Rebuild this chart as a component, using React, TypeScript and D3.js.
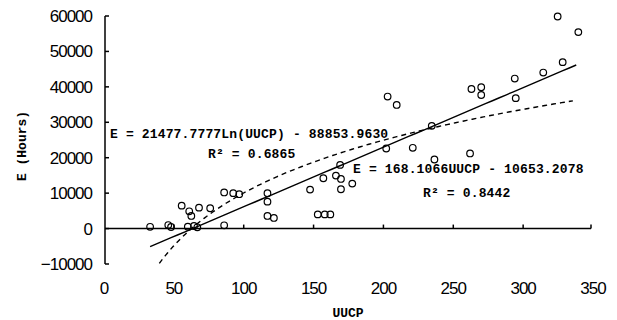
import React, { useEffect, useRef } from "react";
import * as d3 from "d3";

const uucp = [
  33, 46, 48, 55.6, 60, 61, 62.5, 64.4, 66.8, 68, 76, 86, 86, 92.5, 96.8,
  117, 117, 117, 121.6, 147.5, 153, 158, 162, 157, 166, 169.6, 169.6, 169,
  177.7, 202, 203, 209.5, 221, 234.6, 236.5, 262, 263, 270, 270, 294, 294.7,
  314.4, 324.7, 328.3, 339.5,
];
const hours = [
  500, 1000, 450, 6470, 540, 4880, 3560, 730, 360, 5900, 5730, 930, 10200,
  10000, 9700, 9970, 7600, 3560, 3000, 11000, 4000, 4000, 4000, 14200, 14950,
  14010, 11100, 17970, 12700, 22600, 37260, 34900, 22800, 29000, 19500, 21200,
  39400, 39900, 37700, 42350, 36810, 44040, 59860, 46980, 55450,
];
const xTicks = [0, 50, 100, 150, 200, 250, 300, 350];
const yTicks = [-10000, 0, 10000, 20000, 30000, 40000, 50000, 60000];
const linFit = { slope: 168.1066, intercept: -10653.2078, from: 33, to: 338 };
const logFit = { a: 21477.7777, b: -88853.963, from: 39.6, to: 336 };

const W = 617;
const H = 320;

export default function App(): JSX.Element {
  const ref = useRef<SVGSVGElement>(null);

  useEffect(() => {
    const svg = d3.select(ref.current);
    svg.selectAll("*").remove();

    const x = d3.scaleLinear().domain([0, 350]).range([104, 593]);
    const y = d3.scaleLinear().domain([-10000, 60000]).range([264, 16]);
    const labelFont = "'Liberation Sans', Arial, sans-serif";
    const monoFont = "'Liberation Mono', 'DejaVu Sans Mono', monospace";

    svg.append("rect").attr("width", W).attr("height", H).attr("fill", "#fff");

    // y axis
    svg
      .append("line")
      .attr("x1", x(0) + 1)
      .attr("x2", x(0) + 1)
      .attr("y1", y(60000))
      .attr("y2", y(-10000))
      .attr("stroke", "#000")
      .attr("stroke-width", 1.5);
    svg
      .selectAll(".ytick")
      .data(yTicks)
      .enter()
      .append("line")
      .attr("x1", x(0) + 1)
      .attr("x2", x(0) + 5)
      .attr("y1", (d) => y(d))
      .attr("y2", (d) => y(d))
      .attr("stroke", "#000")
      .attr("stroke-width", 1.5);
    svg
      .selectAll(".ylab")
      .data(yTicks)
      .enter()
      .append("text")
      .attr("x", 92)
      .attr("y", (d) => y(d) + 6)
      .attr("text-anchor", "end")
      .attr("font-family", labelFont)
      .attr("font-size", 17)
      .attr("letter-spacing", -1)
      .text((d) => (d < 0 ? "\u2212" + Math.abs(d) : String(d)));

    // x axis along y = 0
    svg
      .append("line")
      .attr("x1", x(0) + 1)
      .attr("x2", x(350) - 2)
      .attr("y1", y(0))
      .attr("y2", y(0))
      .attr("stroke", "#000")
      .attr("stroke-width", 1.5);
    svg
      .selectAll(".xtick")
      .data(xTicks.slice(1))
      .enter()
      .append("line")
      .attr("x1", (d) => Math.min(x(d), x(350) - 2))
      .attr("x2", (d) => Math.min(x(d), x(350) - 2))
      .attr("y1", y(0))
      .attr("y2", y(0) - 4)
      .attr("stroke", "#000")
      .attr("stroke-width", 1.5);
    svg
      .selectAll(".xlab")
      .data(xTicks)
      .enter()
      .append("text")
      .attr("x", (d) => x(d))
      .attr("y", 294)
      .attr("text-anchor", "middle")
      .attr("font-family", labelFont)
      .attr("font-size", 17)
      .attr("letter-spacing", -1)
      .text((d) => String(d));

    // axis titles
    svg
      .append("text")
      .attr("x", 348)
      .attr("y", 317)
      .attr("text-anchor", "middle")
      .attr("font-family", monoFont)
      .attr("font-weight", "bold")
      .attr("font-size", 13)
      .text("UUCP");
    svg
      .append("text")
      .attr("transform", "translate(26,146) rotate(-90)")
      .attr("text-anchor", "middle")
      .attr("font-family", monoFont)
      .attr("font-weight", "bold")
      .attr("font-size", 13)
      .text("E (Hours)");

    // trend lines
    const linPts = d3.range(linFit.from, linFit.to + 0.1, 5).map((u) => [u, linFit.slope * u + linFit.intercept]);
    const logPts = d3.range(logFit.from, logFit.to + 0.1, 2).map((u) => [u, logFit.a * Math.log(u) + logFit.b]);
    const line = d3
      .line<number[]>()
      .x((d) => x(d[0]))
      .y((d) => y(d[1]));
    svg
      .append("path")
      .attr("d", line(linPts))
      .attr("fill", "none")
      .attr("stroke", "#000")
      .attr("stroke-width", 1.4);
    svg
      .append("path")
      .attr("d", line(logPts))
      .attr("fill", "none")
      .attr("stroke", "#000")
      .attr("stroke-width", 1.4)
      .attr("stroke-dasharray", "5,4");

    // points
    svg
      .selectAll(".pt")
      .data(uucp.map((u, i) => [u, hours[i]]))
      .enter()
      .append("circle")
      .attr("cx", (d) => x(d[0]))
      .attr("cy", (d) => y(d[1]))
      .attr("r", 3.3)
      .attr("fill", "none")
      .attr("stroke", "#000")
      .attr("stroke-width", 1.2);

    // equations
    const eq = [
      { t: "E = 21477.7777Ln(UUCP) - 88853.9630", x: 110, y: 138 },
      { t: "R\u00b2 = 0.6865", x: 208, y: 158 },
      { t: "E = 168.1066UUCP - 10653.2078", x: 353, y: 173 },
      { t: "R\u00b2 = 0.8442", x: 423, y: 197 },
    ];
    svg
      .selectAll(".eq")
      .data(eq)
      .enter()
      .append("text")
      .attr("x", (d) => d.x)
      .attr("y", (d) => d.y)
      .attr("font-family", monoFont)
      .attr("font-size", 13)
      .attr("font-weight", "bold")
      .attr("letter-spacing", 0.15)
      .text((d) => d.t);
  });

  return (
    <svg
      ref={ref}
      width={W}
      height={H}
      style={{ position: "absolute", left: 0, top: 0 }}
    />
  );
}
